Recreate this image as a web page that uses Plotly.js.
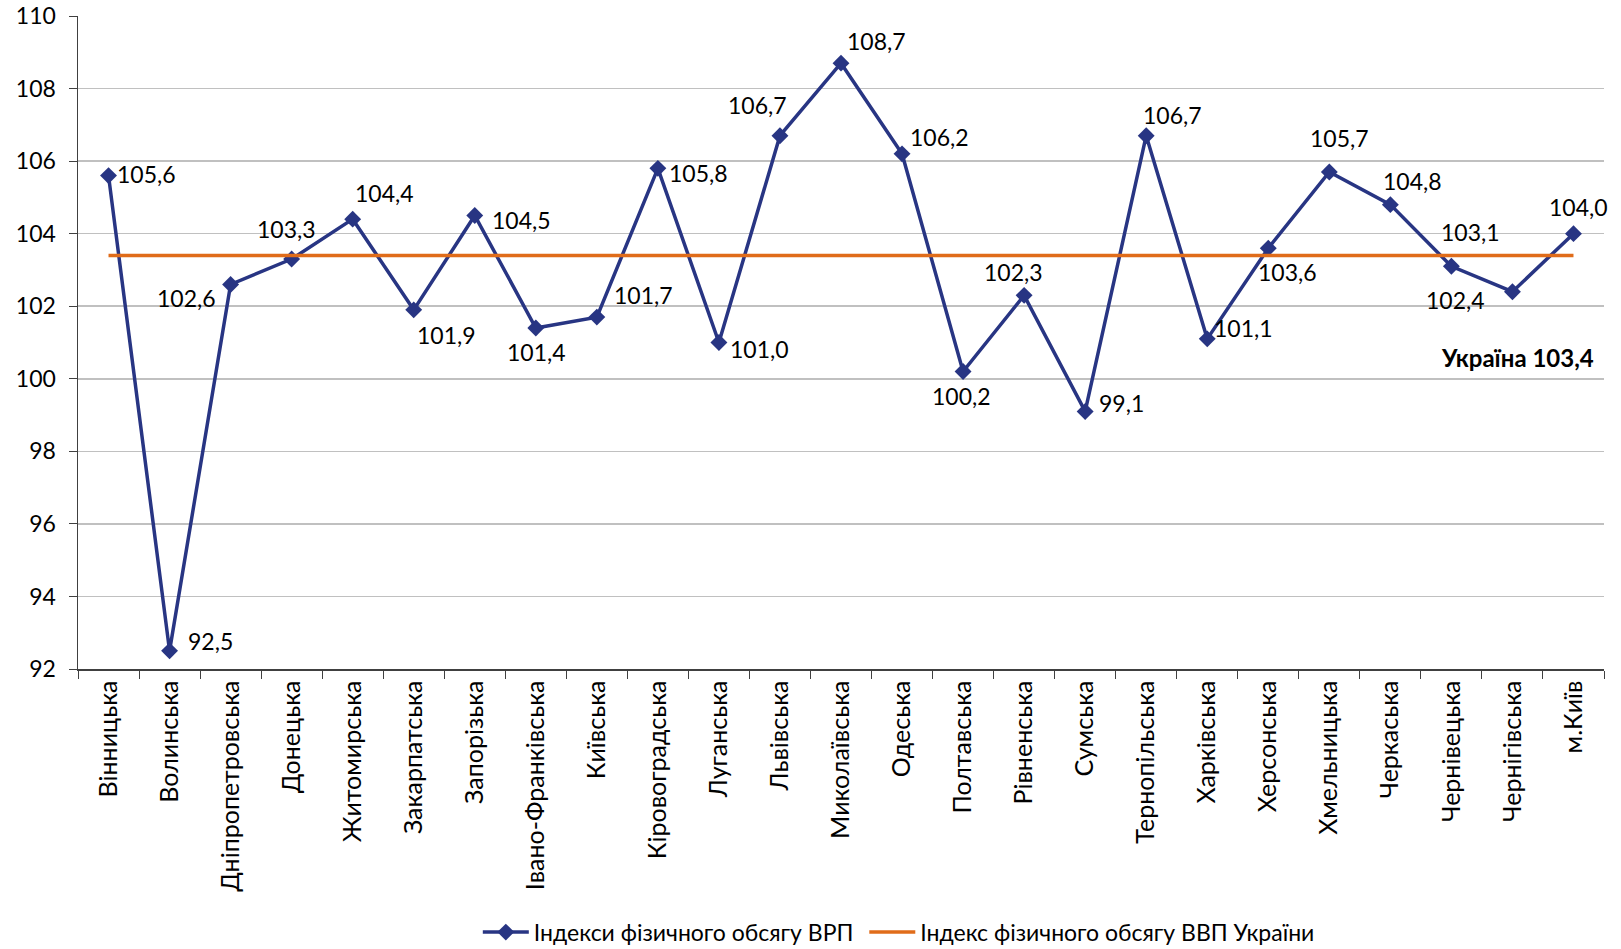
<!DOCTYPE html>
<html>
<head>
<meta charset="utf-8">
<script src="https://cdn.plot.ly/plotly-3.0.1.min.js"></script>
<style>html,body{margin:0;padding:0;background:#fff;}#chart{width:1621px;height:949px;}</style>
</head>
<body>
<div id="chart"></div>
<script>
const regions = ["Вінницька","Волинська","Дніпропетровська","Донецька","Житомирська","Закарпатська","Запорізька","Івано-Франківська","Київська","Кіровоградська","Луганська","Львівська","Миколаївська","Одеська","Полтавська","Рівненська","Сумська","Тернопільська","Харківська","Херсонська","Хмельницька","Черкаська","Чернівецька","Чернігівська","м.Київ"];
const grpIndex = [105.6,92.5,102.6,103.3,104.4,101.9,104.5,101.4,101.7,105.8,101.0,106.7,108.7,106.2,100.2,102.3,99.1,106.7,101.1,103.6,105.7,104.8,103.1,102.4,104.0];
const ukraineIndex = 103.4;
const seriesNames = ["Індекси фізичного обсягу ВРП","Індекс фізичного обсягу ВВП України"];
const yTicks = [92,94,96,98,100,102,104,106,108,110];

// label offsets (pixels) for data labels
const labelShiftX = [38,41,-44,-5,32,33,47,1,47,41,41,-22,35,37,-2,-11,36,26,36,19,10,22,19,-57,5];
const labelShiftY = [2,10,-14,30,26,-25,-4,-24,22,-5,-6,31,22,17,-24,23,8,21,11,-24,34,24,34,-8,27];

const fmt = v => v.toFixed(1).replace('.', ',');
const FONT = 'Lato, "Open Sans", sans-serif';

const traces = [
  {
    x: regions, y: grpIndex, type: 'scatter', mode: 'lines+markers', name: seriesNames[0] + '\u00a0',
    line: {color: '#283583', width: 3.5},
    marker: {symbol: 'diamond', size: 13, color: '#283583'},
    hoverinfo: 'x+y'
  },
  {
    x: regions, y: regions.map(() => ukraineIndex), type: 'scatter', mode: 'lines', name: seriesNames[1],
    line: {color: '#e06c1a', width: 3.5},
    hoverinfo: 'y'
  }
];

const annotations = regions.map((r, i) => ({
  x: r, y: grpIndex[i], xref: 'x', yref: 'y', text: fmt(grpIndex[i]), showarrow: false,
  xshift: labelShiftX[i], yshift: labelShiftY[i],
  font: {family: FONT, size: 23, color: '#000'}
}));
annotations.push({
  xref: 'paper', yref: 'y', x: 0.995, y: 100.6, xanchor: 'right', yanchor: 'middle',
  text: '<b>Україна ' + fmt(ukraineIndex) + '</b>', showarrow: false,
  font: {family: FONT, size: 24, color: '#000'}
});

const layout = {
  width: 1621, height: 949,
  margin: {l: 78, r: 17, t: 16, b: 280, autoexpand: false},
  paper_bgcolor: '#fff', plot_bgcolor: '#fff',
  font: {family: FONT, color: '#000'},
  showlegend: true,
  legend: {orientation: 'h', x: 0.262, y: -0.403, xanchor: 'left', yanchor: 'middle',
           font: {family: FONT, size: 23, color: '#000'}, itemwidth: 46, traceorder: 'normal'},
  xaxis: {
    type: 'category', tickangle: -90, tickson: 'boundaries', ticks: 'outside', ticklen: 8,
    tickcolor: '#404040', showline: true, linecolor: '#404040', linewidth: 1.5,
    showgrid: false, tickfont: {family: FONT, size: 25, color: '#000'}, automargin: false,
    range: [-0.5, regions.length - 0.5]
  },
  yaxis: {
    range: [92, 110], tickvals: yTicks, ticktext: yTicks.map(String),
    ticks: 'outside', ticklen: 8, tickcolor: '#404040', ticklabelstandoff: 8,
    showline: true, linecolor: '#404040', linewidth: 1.5,
    showgrid: true, gridcolor: '#c0c0c0', gridwidth: 1.5, zeroline: false,
    tickfont: {family: FONT, size: 23, color: '#000'}, automargin: false
  },
  annotations: annotations
};

Plotly.newPlot('chart', traces, layout, {displayModeBar: false, staticPlot: true});
</script>
</body>
</html>
